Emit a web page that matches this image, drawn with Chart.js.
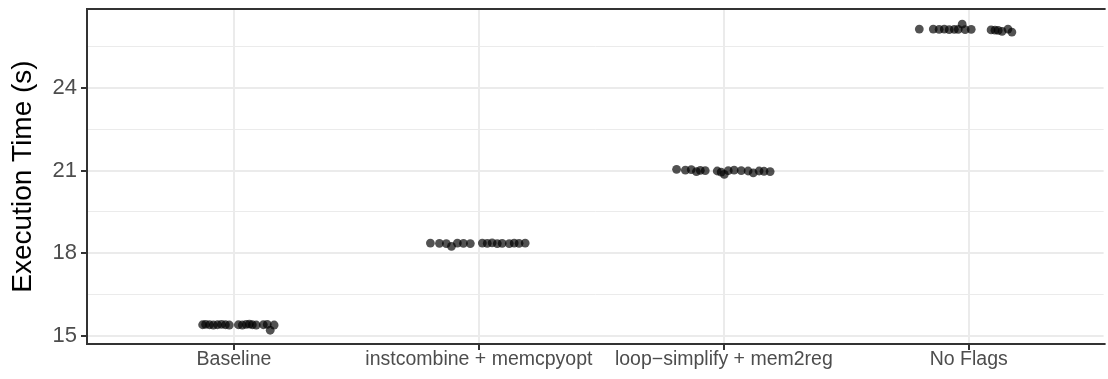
<!DOCTYPE html>
<html>
<head>
<meta charset="utf-8">
<script src="https://cdn.jsdelivr.net/npm/chart.js@4/dist/chart.umd.min.js"></script>
<style>
  html, body { margin: 0; padding: 0; background: #ffffff; }
  #wrap { width: 1108px; height: 379px; }
</style>
</head>
<body>
<div id="wrap"><canvas id="c" width="1108" height="379"></canvas></div>
<script>
// ---- data ----
const categories = ["Baseline", "instcombine + memcpyopt", "loop\u2212simplify + mem2reg", "No Flags"];

// horizontal jitter (in category units) and execution time (s) for each run
const baselineJitter = [-0.128, -0.116, -0.100, -0.084, -0.067, -0.051, -0.035, -0.019, 0.018, 0.034, 0.050, 0.063, 0.075, 0.091, 0.120, 0.136, 0.148, 0.164];
const baselineTime   = [15.40, 15.41, 15.40, 15.39, 15.40, 15.41, 15.40, 15.39, 15.40, 15.39, 15.41, 15.42, 15.40, 15.39, 15.40, 15.41, 15.20, 15.39];

const instcombineJitter = [-0.198, -0.161, -0.133, -0.112, -0.088, -0.063, -0.035, 0.014, 0.034, 0.054, 0.075, 0.095, 0.124, 0.144, 0.164, 0.189];
const instcombineTime   = [18.37, 18.36, 18.35, 18.25, 18.37, 18.36, 18.35, 18.37, 18.36, 18.38, 18.35, 18.36, 18.35, 18.37, 18.36, 18.37];

const loopJitter = [-0.193, -0.157, -0.133, -0.112, -0.096, -0.076, -0.027, -0.011, 0.002, 0.018, 0.042, 0.071, 0.099, 0.120, 0.144, 0.164, 0.189];
const loopTime   = [21.05, 21.02, 21.04, 20.97, 21.01, 21.00, 20.99, 20.95, 20.87, 21.00, 21.02, 21.00, 20.99, 20.92, 20.99, 20.98, 20.97];

const noFlagsJitter = [-0.202, -0.145, -0.121, -0.100, -0.080, -0.059, -0.043, -0.027, -0.015, 0.010, 0.091, 0.107, 0.120, 0.136, 0.160, 0.176];
const noFlagsTime   = [26.15, 26.15, 26.14, 26.15, 26.13, 26.14, 26.14, 26.33, 26.13, 26.14, 26.12, 26.11, 26.10, 26.07, 26.15, 26.04];

const yTickValues = [15, 16.5, 18, 19.5, 21, 22.5, 24, 25.5];
const yLabelled   = [15, 18, 21, 24];
const yTitle = "Execution Time (s)";

// ---- build points ----
const groups = [
  [baselineJitter, baselineTime],
  [instcombineJitter, instcombineTime],
  [loopJitter, loopTime],
  [noFlagsJitter, noFlagsTime]
];
const points = [];
groups.forEach((g, i) => {
  g[0].forEach((j, k) => points.push({ x: i + 1 + j, y: g[1][k] }));
});

const FONT = "'Liberation Sans', Arial, sans-serif";

const panelBorder = {
  id: 'panelBorder',
  afterDatasetsDraw(chart) {
    const { ctx, chartArea: a } = chart;
    ctx.save();
    ctx.strokeStyle = '#333333';
    ctx.lineWidth = 2;
    ctx.beginPath();
    ctx.moveTo(a.right + 2, a.top);
    ctx.lineTo(a.left, a.top);
    ctx.lineTo(a.left, a.bottom);
    ctx.lineTo(a.right + 2, a.bottom);
    ctx.stroke();
    ctx.restore();
  }
};

new Chart(document.getElementById('c'), {
  type: 'scatter',
  data: {
    datasets: [{
      data: points,
      backgroundColor: 'rgba(0,0,0,0.68)',
      borderWidth: 0,
      pointRadius: 4.4,
      pointHoverRadius: 4.4
    }]
  },
  plugins: [panelBorder],
  options: {
    responsive: false,
    animation: false,
    events: [],
    layout: { padding: { left: 0, top: 9, right: 0, bottom: 0 } },
    plugins: { legend: { display: false }, tooltip: { enabled: false } },
    scales: {
      x: {
        type: 'linear',
        min: 0.4,
        max: 0.4 + 1021 / 246,
        afterBuildTicks(scale) { scale.ticks = categories.map((c, i) => ({ value: i + 1 })); },
        afterFit(scale) {
          scale.height = 35;
          scale.paddingLeft = 0; scale.paddingRight = 0;
        },
        ticks: {
          autoSkip: false,
          maxRotation: 0,
          padding: -2,
          color: '#4D4D4D',
          font: { family: FONT, size: 19.5 },
          callback: (v) => categories[Math.round(v) - 1]
        },
        grid: {
          color: '#EBEBEB',
          lineWidth: 2,
          tickColor: '#333333',
          tickLength: 6,
          tickWidth: 2
        },
        border: { display: false }
      },
      y: {
        type: 'linear',
        min: 14.70,
        max: 26.88,
        afterBuildTicks(scale) { scale.ticks = yTickValues.map(v => ({ value: v })); },
        afterFit(scale) {
          scale.width = 87;
          scale.paddingTop = 0; scale.paddingBottom = 0;
        },
        ticks: {
          autoSkip: false,
          padding: 4,
          color: '#4D4D4D',
          font: { family: FONT, size: 22 },
          callback: (v) => (yLabelled.includes(v) ? String(v) : '')
        },
        grid: {
          color: '#EBEBEB',
          lineWidth: (ctx) => (ctx.tick && yLabelled.includes(ctx.tick.value) ? 2 : 1),
          tickColor: (ctx) => (ctx.tick && yLabelled.includes(ctx.tick.value) ? '#333333' : 'rgba(0,0,0,0)'),
          tickLength: 6,
          tickWidth: 2
        },
        border: { display: false },
        title: {
          display: true,
          text: yTitle,
          color: '#000000',
          font: { family: FONT, size: 28 },
          padding: { top: 6, bottom: 0 }
        }
      }
    }
  }
});
</script>
</body>
</html>
